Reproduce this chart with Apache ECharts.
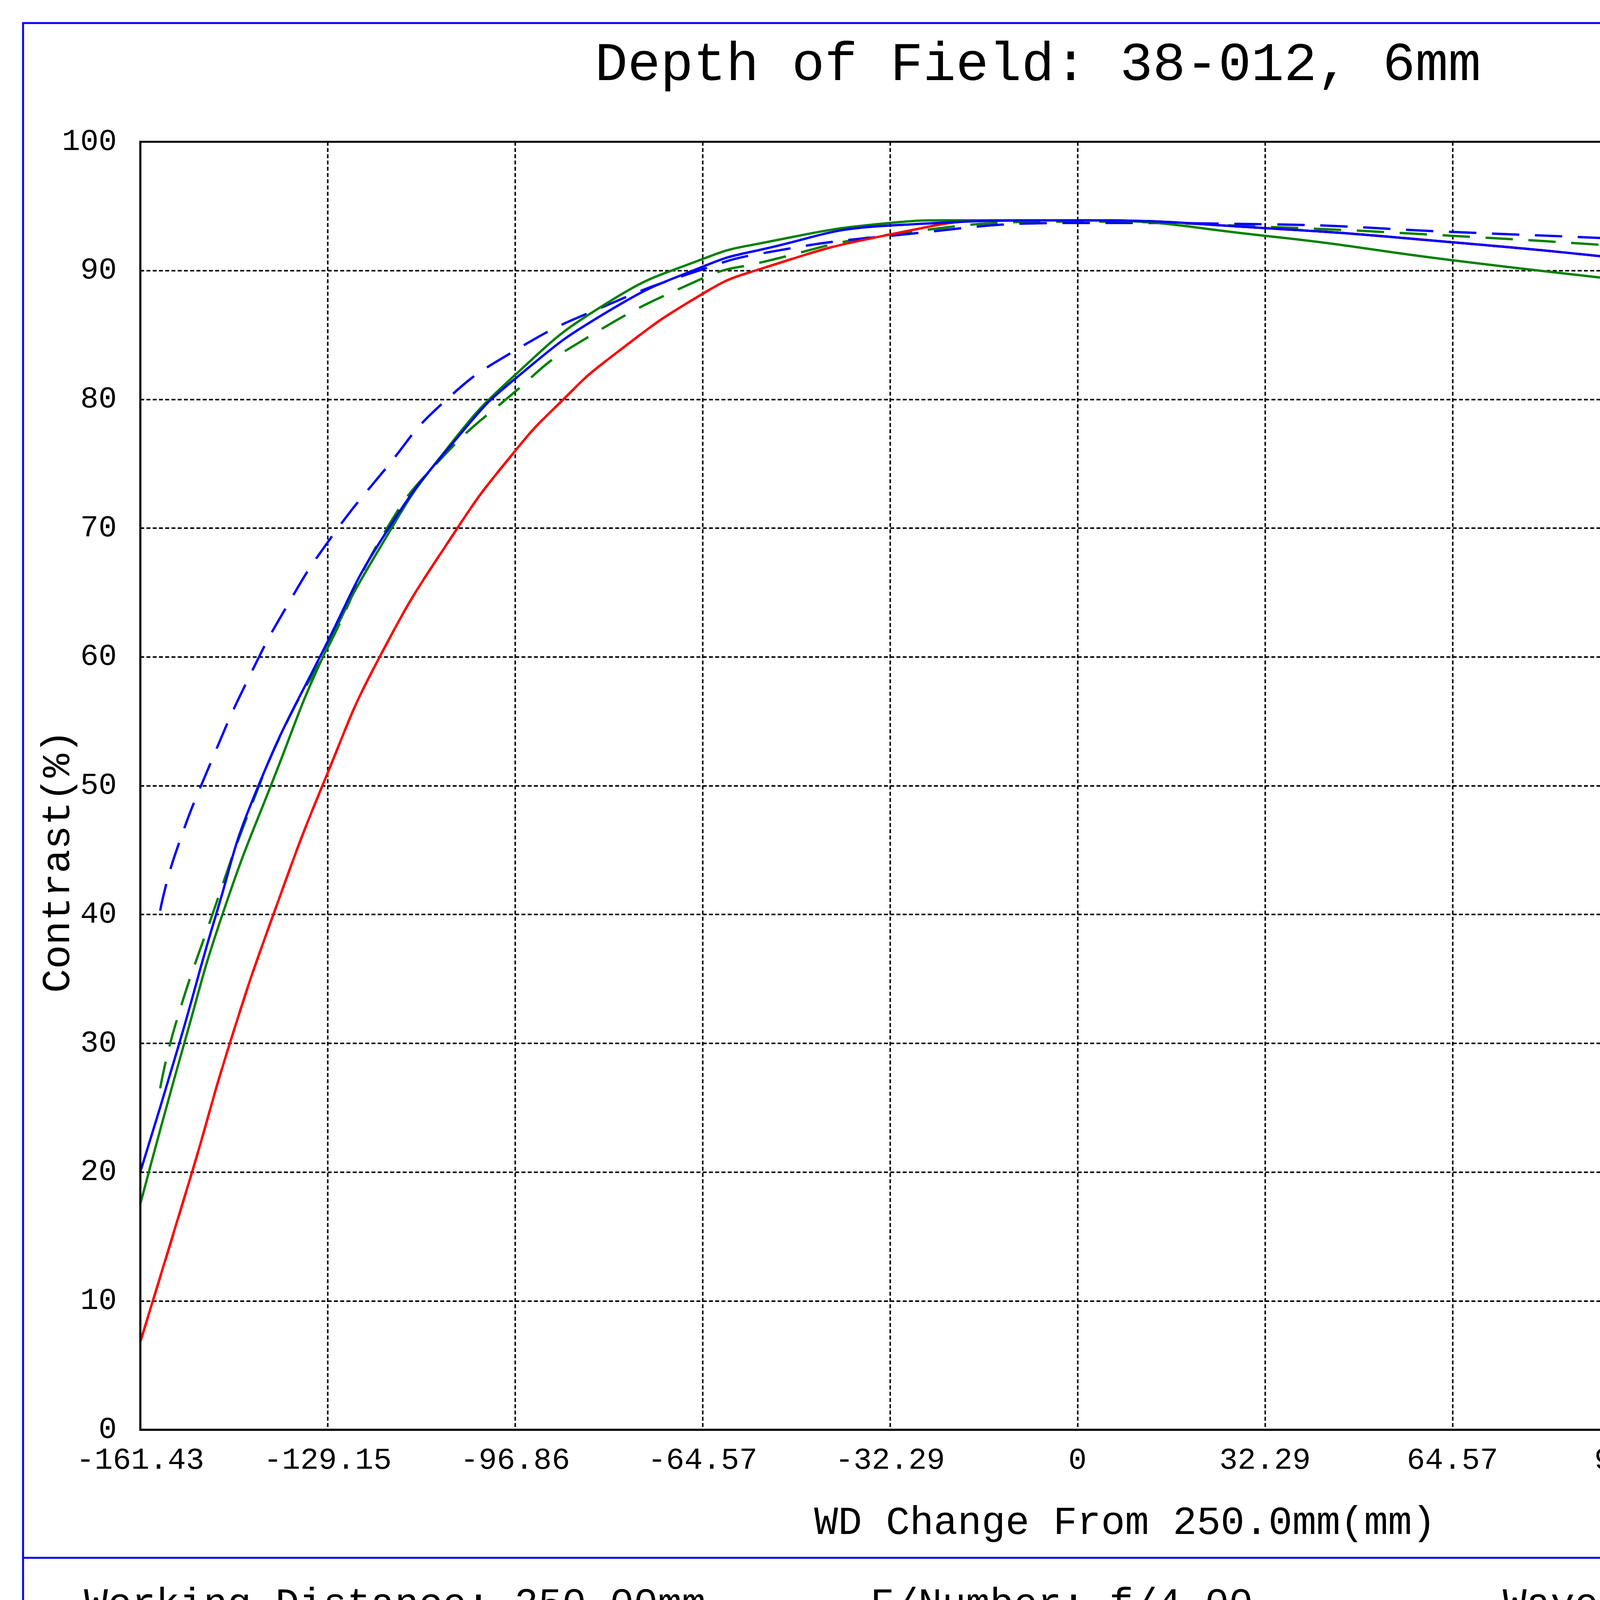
<!DOCTYPE html>
<html><head><meta charset="utf-8">
<script src="https://cdn.jsdelivr.net/npm/echarts@6/dist/echarts.min.js"></script>
<style>html,body{margin:0;padding:0;background:#fff}#c{width:6118px;height:4327px}</style>
</head><body><div id="c"></div>
<script>
var xTickLabels = ['-161.43','-129.15','-96.86','-64.57','-32.29','0','32.29','64.57','96.86','129.15','161.43'];
var yTickLabels = ['0','10','20','30','40','50','60','70','80','90','100'];

var redSolidX = [-161.43,-152.5,-146,-138.5,-129.15,-120.2,-107.4,-96.86,-89,-80.6,-64.57,-54.8,-32.29,-12,0,32.29,64.57,96.86,129.15,161.43];
var redSolidY = [6.8,20,30,40,51,60,69.6,76.0,79.8,83.2,88.2,90.1,92.8,93.9,93.9,93.3,92.2,90.8,89.2,87.6];
var redDashY  = [6.8,20,30,40,51,60,69.6,76.0,79.8,83.2,88.2,90.1,92.8,93.9,93.9,93.3,92.2,90.8,89.2,87.7];

var greenSolidX = [-161.43,-153.6,-147.2,-138.5,-129.15,-119.2,-109.6,-96.86,-80.6,-64.57,-54.8,-32.29,-22.6,0,32.29,64.57,96.86,129.15,161.43];
var greenSolidY = [17.5,30.4,40.1,50.5,60.8,69.2,75.6,81.9,87.6,90.9,92.1,93.7,93.9,93.9,92.7,90.8,89.1,87.4,85.4];

var blueSolidX = [-161.43,-154.7,-148.3,-141.8,-129.15,-119.2,-106.3,-96.86,-80.6,-64.57,-54.8,-32.29,0,32.29,64.57,96.86,129.15,161.43];
var blueSolidY = [20,30,40.1,49.2,61.2,69.6,77.3,81.6,86.9,90.3,91.6,93.5,93.9,93.3,92.2,90.8,89.2,87.8];

var greenDashX = [-158,-155.4,-149,-142.5,-136.1,-129.15,-119.2,-109.6,-96.86,-87,-64.57,-54.8,-32.29,0,32.29,64.57,96.86,129.15,161.43];
var greenDashY = [26.5,31.4,40,48.2,55,60.7,69.8,75.4,80.6,84.1,89.4,90.6,92.8,93.8,93.4,92.7,91.8,90.8,89.9];

var blueDashX = [-158,-155.4,-149,-142.5,-136.1,-129.15,-119.2,-109.6,-96.86,-80.6,-64.57,-54.8,-32.29,0,32.29,64.57,96.86,129.15,161.43];
var blueDashY = [40.3,44.7,52.1,58.6,64.0,68.9,74.6,79.6,83.8,87.4,90.1,91.3,92.7,93.7,93.6,93.0,92.4,91.7,91.0];

function pairs(xs, ys){ return xs.map(function(x,i){return [x, ys[i]];}); }
var FONT = '"Liberation Mono", "DejaVu Sans Mono", monospace';
var iconPath = 'path://M0,0H40V3H0Z M0,9H10V12H0Z M15,9H25V12H15Z M30,9H40V12H30Z';

function line(name, data, color, dashed){
  return {type:'line', name:name, data:data, showSymbol:false, symbol:'none', smooth:0.5,
    lineStyle:{color:color, width:6, type: dashed ? [70,40] : 'solid'}, itemStyle:{color:color}, z: dashed?3:4};
}

var chart = echarts.init(document.getElementById('c'));
chart.setOption({
  backgroundColor:'#fff',
  animation:false,
  grid:{left:359, right:960, top:363, bottom:667},
  xAxis:{type:'value', min:-161.43, max:161.43, interval:32.286,
    axisLine:{show:true, onZero:false, lineStyle:{color:'#000', width:5}}, axisTick:{show:false},
    splitLine:{show:true, lineStyle:{color:'#000', width:4, type:[10,6]}},
    axisLabel:{color:'#000', fontFamily:FONT, fontSize:78, margin:40,
      formatter:function(v){ var i=Math.round((v+161.43)/32.286); return xTickLabels[i]; }}},
  yAxis:{type:'value', min:0, max:100, interval:10,
    axisLine:{show:true, onZero:false, lineStyle:{color:'#000', width:5}}, axisTick:{show:false},
    splitLine:{show:true, lineStyle:{color:'#000', width:4, type:[10,6]}},
    axisLabel:{color:'#000', fontFamily:FONT, fontSize:78, margin:60,
      formatter:function(v){ return yTickLabels[Math.round(v/10)]; }}},
  legend:{orient:'vertical', left:5215, top:1350, itemGap:72, itemWidth:90, itemHeight:28,
    icon:iconPath, textStyle:{fontFamily:FONT, fontSize:72, color:'#000', padding:[0,0,0,20]},
    data:[{name:'TS,0.00mm', itemStyle:{color:'#ff0000'}},{name:'TS,2.25mm', itemStyle:{color:'#008000'}},{name:'TS,3.00mm', itemStyle:{color:'#0000ff'}}]},
  series:[
    line('TS,0.00mm', pairs(redSolidX, redDashY), '#ff0000', true),
    line('TS,2.25mm', pairs(greenDashX, greenDashY), '#008000', true),
    line('TS,3.00mm', pairs(blueDashX, blueDashY), '#0000ff', true),
    line('TS,0.00mm', pairs(redSolidX, redSolidY), '#ff0000', false),
    line('TS,2.25mm', pairs(greenSolidX, greenSolidY), '#008000', false),
    line('TS,3.00mm', pairs(blueSolidX, blueSolidY), '#0000ff', false)
  ],
  graphic:[
    {type:'rect', shape:{x:359,y:363,width:4799,height:3297}, style:{fill:'none', stroke:'#000', lineWidth:5}, silent:true, z:10},
    {type:'rect', shape:{x:59,y:59,width:5997,height:4202}, style:{fill:'none', stroke:'#0000ff', lineWidth:5}, silent:true},
    {type:'line', shape:{x1:59,y1:3988,x2:6056,y2:3988}, style:{stroke:'#0000ff', lineWidth:5}},
    {type:'line', shape:{x1:0,y1:4315,x2:6118,y2:4315}, style:{stroke:'#000', lineWidth:8}},
    {type:'text', x:2657, y:168, style:{text:'Depth of Field: 38-012, 6mm', fontFamily:FONT, fontSize:140, fill:'#000', textAlign:'center', textVerticalAlign:'middle'}},
    {type:'text', x:2880, y:3900, style:{text:'WD Change From 250.0mm(mm)', fontFamily:FONT, fontSize:102, fill:'#000', textAlign:'center', textVerticalAlign:'middle'}},
    {type:'text', x:150, y:2205, rotation:Math.PI/2, style:{text:'Contrast(%)', fontFamily:FONT, fontSize:102, fill:'#000', textAlign:'center', textVerticalAlign:'middle'}},
    {type:'text', x:5221, y:1237, style:{text:'Fields', fontFamily:FONT, fontSize:80, fill:'#000', textAlign:'left', textVerticalAlign:'middle'}},
    {type:'text', x:215, y:4109, style:{text:'Working Distance: 250.00mm', fontFamily:FONT, fontSize:102, fill:'#000', textAlign:'left', textVerticalAlign:'middle'}},
    {type:'text', x:2228, y:4109, style:{text:'F/Number: f/4.00', fontFamily:FONT, fontSize:102, fill:'#000', textAlign:'left', textVerticalAlign:'middle'}},
    {type:'text', x:3847, y:4109, style:{text:'Wavelength Range: 486nm-656nm', fontFamily:FONT, fontSize:102, fill:'#000', textAlign:'left', textVerticalAlign:'middle'}}
  ]
});
</script></body></html>
